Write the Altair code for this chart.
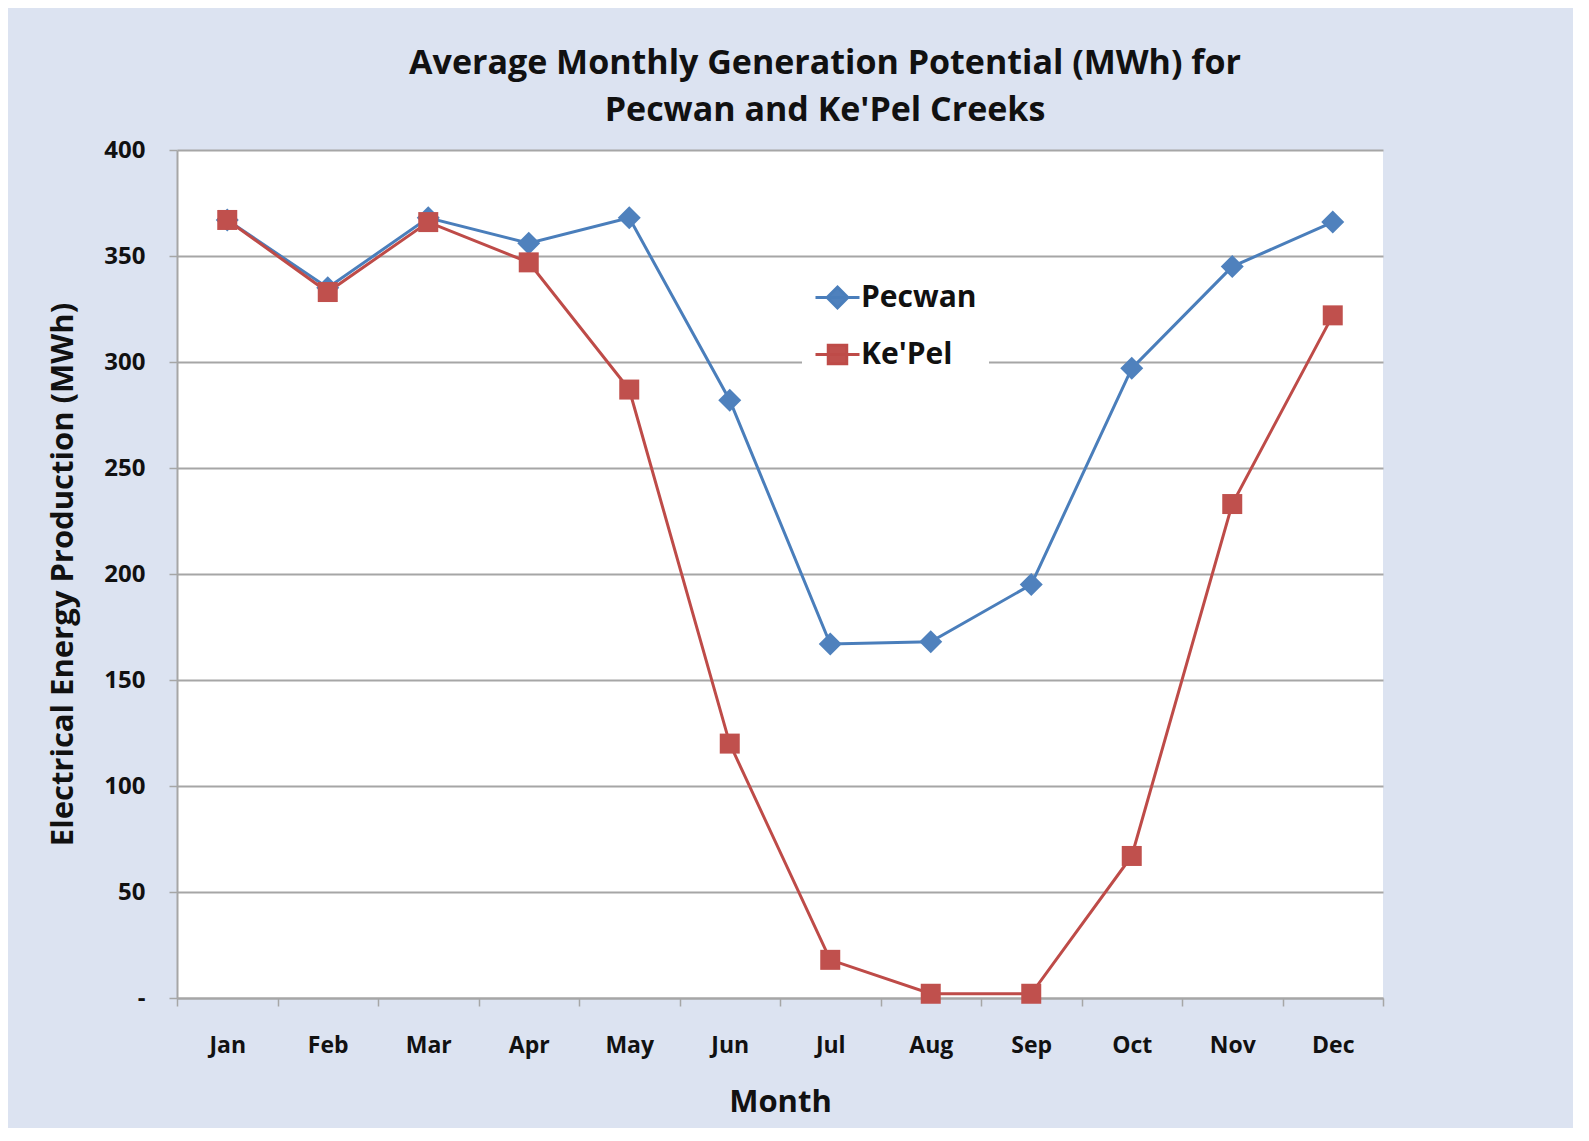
import altair as alt
import pandas as pd

months = ["Jan", "Feb", "Mar", "Apr", "May", "Jun", "Jul", "Aug", "Sep", "Oct", "Nov", "Dec"]
series_names = ["Pecwan", "Ke'Pel"]
pecwan = [367, 335, 368, 356, 368, 282, 167, 168, 195, 297, 345, 366]
kepel = [367, 333, 366, 347, 287, 120, 18, 2, 2, 67, 233, 322]
y_ticks = [0, 50, 100, 150, 200, 250, 300, 350, 400]

rows = []
for name, vals in zip(series_names, [pecwan, kepel]):
    for m, v in zip(months, vals):
        rows.append({"Series": name, "Month": m, "Value": v})
df = pd.DataFrame(rows)

FONT = "Open Sans"
BLUE_LINE = "#4A7EBB"
RED_LINE = "#BE4B48"
BLUE_MK = "#4F81BD"
RED_MK = "#C0504D"
GRID = "#A6A6A6"
TXT = "#111111"

x_enc = alt.X(
    "Month:O",
    sort=months,
    scale=alt.Scale(type="band", paddingInner=0, paddingOuter=0),
    axis=alt.Axis(
        title="Month",
        labelAngle=0,
        tickBand="extent",
        tickSize=8,
        tickColor=GRID,
        tickWidth=1.5,
        domainColor=GRID,
        domainWidth=2,
        grid=False,
        labelFont=FONT,
        labelFontSize=23,
        labelFontWeight="bold",
        labelColor=TXT,
        labelPadding=28,
        titleFont=FONT,
        titleFontSize=31,
        titleFontWeight="bold",
        titleColor=TXT,
        titleY=104,
        titleBaseline="middle",
    ),
)

y_enc = alt.Y(
    "Value:Q",
    scale=alt.Scale(domain=[0, 400], nice=False),
    axis=alt.Axis(
        title="Electrical Energy Production (MWh)",
        values=y_ticks,
        labelExpr="datum.value == 0 ? '-\u00a0\u00a0' : datum.label",
        tickSize=8,
        tickColor=GRID,
        tickWidth=1.5,
        domainColor=GRID,
        domainWidth=2,
        grid=True,
        gridColor=GRID,
        gridWidth=2,
        labelFont=FONT,
        labelFontSize=24,
        labelFontWeight="bold",
        labelColor=TXT,
        labelPadding=24,
        titleFont=FONT,
        titleFontSize=31,
        titleFontWeight="bold",
        titleColor=TXT,
        titleX=-114,
        titleY=424,
        titleAngle=270,
        titleAlign="center",
        titleBaseline="middle",
    ),
)

legend_shape = (
    "datum.value == 'Pecwan' ? 'M-1,0H1M0,-0.47L0.47,0L0,0.47L-0.47,0Z' "
    ": 'M-1,0H1M-0.42,-0.42H0.42V0.42H-0.42Z'"
)
legend_color = "datum.value == 'Pecwan' ? '%s' : '%s'" % (BLUE_MK, RED_MK)

color_enc = alt.Color(
    "Series:N",
    sort=series_names,
    scale=alt.Scale(domain=series_names, range=[BLUE_LINE, RED_LINE]),
    legend=alt.Legend(
        title=None,
        orient="none",
        legendX=625,
        legendY=112,
        fillColor="white",
        padding=12,
        symbolSize=1936,
        symbolStrokeWidth=3,
        symbolType=alt.ExprRef(expr=legend_shape),
        symbolFillColor=alt.ExprRef(expr=legend_color),
        symbolStrokeColor=alt.ExprRef(expr=legend_color),
        symbolOpacity=1,
        rowPadding=17,
        labelOffset=0,
        labelFont=FONT,
        labelFontSize=30,
        labelFontWeight="bold",
        labelColor=TXT,
    ),
)

lines = alt.Chart(df).mark_line(strokeWidth=3).encode(
    x=x_enc, y=y_enc, color=color_enc
)

points_p = (
    alt.Chart(df)
    .transform_filter(alt.datum.Series == "Pecwan")
    .mark_point(filled=True, opacity=1, size=400, color=BLUE_MK,
                shape="M0,-1.15L1.15,0L0,1.15L-1.15,0Z")
    .encode(x=x_enc, y=y_enc)
)

points_k = (
    alt.Chart(df)
    .transform_filter(alt.datum.Series == "Ke'Pel")
    .mark_point(filled=True, opacity=1, size=400, color=RED_MK, shape="square")
    .encode(x=x_enc, y=y_enc)
)

chart = (
    alt.layer(lines, points_p, points_k)
    .properties(
        width=1206,
        height=848,
        background="#DCE3F1",
        autosize=alt.AutoSizeParams(type="none"),
        padding={"left": 169, "top": 142, "right": 190, "bottom": 130},
        title=alt.TitleParams(
            text=["Average Monthly Generation Potential (MWh) for", "Pecwan and Ke'Pel Creeks"],
            font=FONT,
            fontSize=34,
            fontWeight="bold",
            color=TXT,
            anchor="middle",
            frame="group",
            dx=45,
            offset=10,
            lineHeight=47,
        ),
    )
    .configure_view(fill="white", stroke=None)
)

chart.save("out.html", embed_options={"renderer": "svg", "actions": False})
